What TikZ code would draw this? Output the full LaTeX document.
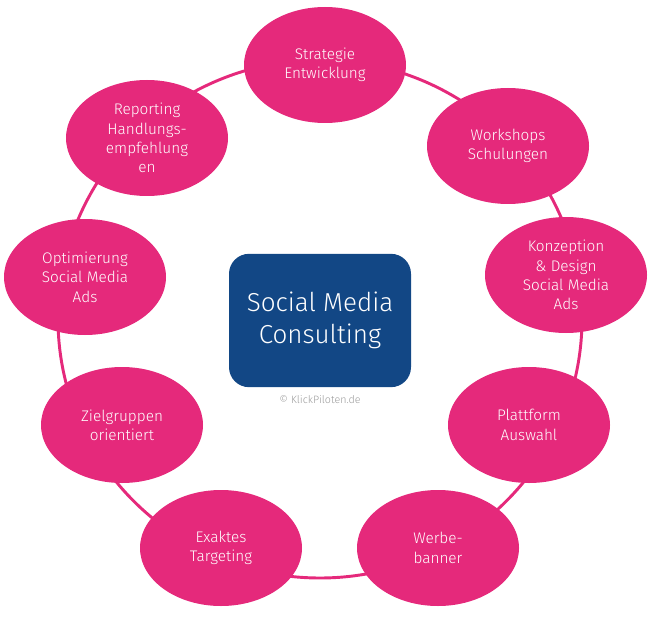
\documentclass[tikz,border=0pt]{standalone}
\usepackage{fontspec}
\IfFontExistsTF{Fira Sans Light}{\setmainfont{Fira Sans Light}}{\setmainfont{Fira Sans}}
\usetikzlibrary{shapes.geometric, positioning}
\definecolor{cpink}{HTML}{E5297B}
\definecolor{cnavy}{HTML}{124785}
\definecolor{cgrey}{HTML}{9A9A9A}
\tikzset{
  every picture/.style={line width=2.2pt},
  topic/.style={ellipse, fill=cpink, text=white, minimum width=121.5pt, minimum height=87pt, inner sep=0pt, align=center,
    font=\fontsize{11.5}{14.5}\selectfont, execute at begin node={\rule{0pt}{11.5pt}}},
  core/.style={rectangle, fill=cnavy, text=white, rounded corners=15pt, minimum width=136.5pt, minimum height=100pt, align=center,
    font=\fontsize{19.5}{24}\selectfont, execute at begin node={\rule{0pt}{18.5pt}}},
  ring/.style={draw=cpink, line width=2.2pt},
  credit/.style={font=\fontsize{8}{9}\selectfont, text=cgrey},
}

\begin{document}
\begin{tikzpicture}[x=0.75pt, y=-0.75pt]
  \useasboundingbox (0,0) rectangle (652,620);

  % ring
  \coordinate (mid) at (320,319);
  \draw[ring] (mid) ellipse [x radius=262, y radius=259];

  % topics
  \node[topic] (strat)  at (325,65)  {Strategie\\Entwicklung};
  \node[topic] (work)   at (508,146) {Workshops\\Schulungen};
  \node[topic] (konz)   at (566,275) {Konzeption\\\& Design\\Social Media\\Ads};
  \node[topic] (platt)  at (529,425) {Plattform\\Auswahl};
  \node[topic] (werbe)  at (438,548) {Werbe-\\banner};
  \node[topic] (exakt)  at (221,548) {Exaktes\\Targeting};
  \node[topic] (ziel)   at (122,425) {Zielgruppen\\orientiert};
  \node[topic] (opti)   at (85,277)  {Optimierung\\Social Media\\Ads};
  \node[topic] (report) at (147,138) {Reporting\\Handlungs-\\empfehlung\\en};

  % centre
  \node[core] (smc) at (320,320.5) {Social Media\\Consulting};
  \node[credit, below=1pt of smc] (copy) {© KlickPiloten.de};
\end{tikzpicture}
\end{document}
